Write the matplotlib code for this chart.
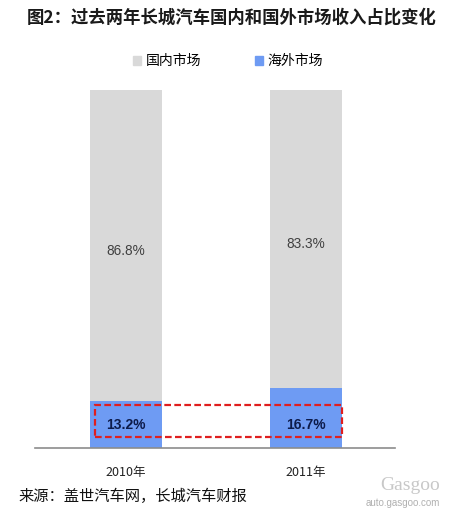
import matplotlib.pyplot as plt
from matplotlib.patches import Rectangle, Patch

plt.rcParams['font.family'] = ['Noto Sans CJK SC', 'DejaVu Sans']

years = ['2010年', '2011年']
domestic = [86.8, 83.3]
overseas = [13.2, 16.7]
series_names = ['国内市场', '海外市场']
title = '图2：过去两年长城汽车国内和国外市场收入占比变化'
source = '来源：盖世汽车网，长城汽车财报'

c_dom = '#D9D9D9'
c_ovs = '#6E9BF3'

fig = plt.figure(figsize=(4.5, 5.12), dpi=100)
ax = fig.add_axes([35 / 450, 1 - 448 / 512, 360 / 450, 358 / 512])

x = range(len(years))
ax.bar(x, overseas, width=0.4, color=c_ovs, zorder=2)
ax.bar(x, domestic, width=0.4, bottom=overseas, color=c_dom, zorder=2)
ax.set_xlim(-0.505, 1.495)
ax.set_ylim(0, 100)

for i in x:
    ax.text(i, overseas[i] + domestic[i] / 2 - 1.5, f'{domestic[i]:.1f}%',
            ha='center', va='center', fontsize=9.8, color='#404040',
            family=['Liberation Sans', 'DejaVu Sans'])
    ax.text(i, 6.5, f'{overseas[i]:.1f}%', ha='center', va='center',
            fontsize=10, fontweight='bold', color='#0D1B4A',
            family=['Liberation Sans', 'DejaVu Sans'])

# dashed highlight box around overseas share
ax.add_patch(Rectangle((-0.17, 3.1), 1.37, 8.9, fill=False, edgecolor='#E01E1E',
                       linestyle=(0, (3, 1.5)), linewidth=1.6, zorder=3))

for s in ['top', 'right', 'left']:
    ax.spines[s].set_visible(False)
ax.spines['bottom'].set_color('#8C8C8C')
ax.spines['bottom'].set_linewidth(1.2)
ax.set_yticks([])
ax.set_xticks(list(x))
ax.set_xticklabels(years, fontsize=9, color='#222222')
ax.tick_params(axis='x', length=0, pad=13)

fig.text(232 / 450, 1 - 18 / 512, title, ha='center', va='center',
         fontsize=12.5, fontweight='bold', color='#1A1A1A')

handles = [Patch(color=c_dom, label=series_names[0]),
           Patch(color=c_ovs, label=series_names[1])]
fig.legend(handles=handles, loc='center', bbox_to_anchor=(228 / 450, 1 - 61 / 512),
           ncol=2, frameon=False, fontsize=10, handlelength=0.6, handleheight=0.6,
           handletextpad=0.3, columnspacing=3.9)

fig.text(18 / 450, 1 - 496 / 512, source, ha='left', va='center',
         fontsize=11, color='#111111')
fig.text(440 / 450, 1 - 503 / 512, 'auto.gasgoo.com', ha='right', va='center',
         fontsize=7, color='#B0B0B0', family=['Liberation Sans', 'DejaVu Sans'])
fig.text(440 / 450, 1 - 486 / 512, 'Gasgoo', ha='right', va='center',
         fontsize=14, color='#C8C8C8', family=['Liberation Serif', 'DejaVu Serif'])

fig.savefig('out.png', dpi=100)
